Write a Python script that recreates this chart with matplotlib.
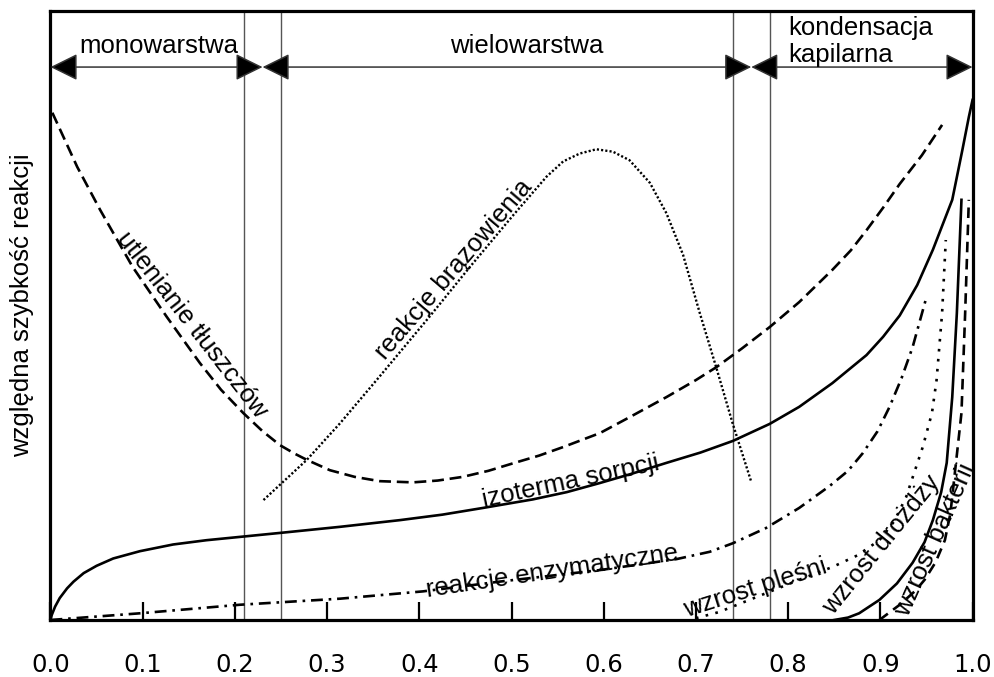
import matplotlib
matplotlib.use('Agg')
import matplotlib.pyplot as plt
from matplotlib.patches import FancyArrowPatch

# utlenianie tłuszczów (dashed)
lipid_x = [0.002, 0.029, 0.054, 0.089, 0.126, 0.162, 0.185, 0.209, 0.230, 0.249, 0.265,
           0.278, 0.303, 0.330, 0.357, 0.393, 0.420, 0.447, 0.475, 0.501, 0.530, 0.556,
           0.596, 0.628, 0.668, 0.700, 0.722, 0.750, 0.780, 0.812, 0.848, 0.868, 0.885,
           0.903, 0.921, 0.945, 0.967]
lipid_y = [0.833, 0.744, 0.673, 0.580, 0.498, 0.422, 0.378, 0.340, 0.310, 0.287, 0.273,
           0.263, 0.246, 0.235, 0.228, 0.226, 0.229, 0.235, 0.245, 0.257, 0.270, 0.284,
           0.307, 0.333, 0.366, 0.394, 0.415, 0.446, 0.481, 0.522, 0.575, 0.607, 0.640,
           0.677, 0.716, 0.763, 0.813]

# izoterma sorpcji (solid)
iso_x = [0.0, 0.0013, 0.005, 0.010, 0.018, 0.025, 0.036, 0.050, 0.068, 0.097, 0.133,
         0.169, 0.209, 0.249, 0.314, 0.379, 0.425, 0.469, 0.523, 0.560, 0.596, 0.630,
         0.668, 0.705, 0.740, 0.780, 0.812, 0.848, 0.885, 0.903, 0.921, 0.940, 0.957,
         0.978, 0.989, 0.996, 1.0]
iso_y = [0.0, 0.008, 0.022, 0.036, 0.052, 0.063, 0.077, 0.089, 0.101, 0.113, 0.124,
         0.131, 0.137, 0.143, 0.153, 0.164, 0.173, 0.184, 0.198, 0.210, 0.225, 0.240,
         0.258, 0.275, 0.294, 0.322, 0.350, 0.389, 0.435, 0.465, 0.500, 0.550, 0.608,
         0.690, 0.772, 0.826, 0.854]

# reakcje brązowienia (dotted)
brown_x = [0.231, 0.278, 0.314, 0.357, 0.411, 0.455, 0.502, 0.538, 0.556, 0.574, 0.592,
           0.610, 0.628, 0.650, 0.668, 0.686, 0.704, 0.722, 0.740, 0.760]
brown_y = [0.197, 0.263, 0.323, 0.400, 0.498, 0.580, 0.665, 0.728, 0.753, 0.766, 0.773,
           0.769, 0.755, 0.718, 0.668, 0.600, 0.505, 0.415, 0.322, 0.227]

# reakcje enzymatyczne (dash-dot)
enz_x = [0.0, 0.097, 0.205, 0.314, 0.404, 0.487, 0.596, 0.679, 0.715, 0.740, 0.776,
         0.812, 0.845, 0.865, 0.881, 0.897, 0.910, 0.923, 0.935, 0.950]
enz_y = [0.0, 0.011, 0.025, 0.035, 0.047, 0.063, 0.082, 0.100, 0.112, 0.126, 0.151,
         0.184, 0.220, 0.245, 0.274, 0.310, 0.350, 0.397, 0.448, 0.530]

# wzrost pleśni (sparse dots)
mold_x = [0.700, 0.725, 0.758, 0.812, 0.848, 0.875, 0.899, 0.915, 0.928, 0.946, 0.956,
          0.961, 0.967, 0.971]
mold_y = [0.003, 0.013, 0.033, 0.066, 0.087, 0.106, 0.131, 0.162, 0.202, 0.284, 0.340,
          0.394, 0.504, 0.624]

# wzrost drożdży (solid)
yeast_x = [0.850, 0.865, 0.877, 0.899, 0.918, 0.935, 0.948, 0.957, 0.966, 0.972, 0.978,
           0.983, 0.988]
yeast_y = [0.0, 0.004, 0.011, 0.033, 0.060, 0.094, 0.128, 0.164, 0.210, 0.258, 0.366,
           0.504, 0.690]

# wzrost bakterii (dashed)
bact_x = [0.899, 0.921, 0.938, 0.948, 0.960, 0.970, 0.976, 0.980, 0.988, 0.992, 0.996]
bact_y = [0.0, 0.025, 0.048, 0.066, 0.095, 0.131, 0.175, 0.230, 0.340, 0.504, 0.690]

xticks = [0.0, 0.1, 0.2, 0.3, 0.4, 0.5, 0.6, 0.7, 0.8, 0.9, 1.0]
xticklabels = ['0.0', '0.1', '0.2', '0.3', '0.4', '0.5', '0.6', '0.7', '0.8', '0.9', '1.0']
region_lines = [0.21, 0.25, 0.74, 0.78]
region_arrows = [(0.0, 0.23), (0.23, 0.76), (0.76, 1.0)]

LAB = 'Liberation Sans'
FS = 18.5

fig = plt.figure(figsize=(9.94, 6.77), dpi=100)
ax = fig.add_axes([0.0508, 0.0842, 0.9276, 0.8995])
ax.set_xlim(0, 1)
ax.set_ylim(0, 1)

for xv in region_lines:
    ax.axvline(xv, color='#555555', lw=1.0, zorder=1)

lw = 1.9
ax.plot(lipid_x, lipid_y, color='k', lw=lw, dashes=(4.5, 2.2))
ax.plot(iso_x, iso_y, color='k', lw=lw)
ax.plot(brown_x, brown_y, color='k', lw=1.7, dashes=(0.9, 0.9))
ax.plot(enz_x, enz_y, color='k', lw=lw, dashes=(4.5, 2.2, 1.0, 2.2))
ax.plot(mold_x, mold_y, color='k', lw=1.9, dashes=(1.0, 2.8))
ax.plot(yeast_x, yeast_y, color='k', lw=lw)
ax.plot(bact_x, bact_y, color='k', lw=lw, dashes=(4.0, 2.5))

# arrows across the top
ya = 0.908
for x0, x1 in region_arrows:
    arr = FancyArrowPatch((x0, ya), (x1, ya), arrowstyle='<|-|>,head_length=0.85,head_width=0.42',
                          mutation_scale=20, shrinkA=0, shrinkB=0, lw=1.1,
                          edgecolor='#333333', facecolor='k', clip_on=False, zorder=3)
    ax.add_patch(arr)

ax.text(0.117, 0.942, 'monowarstwa', family=LAB, fontsize=FS, ha='center', va='center')
ax.text(0.517, 0.942, 'wielowarstwa', family=LAB, fontsize=FS, ha='center', va='center')
ax.text(0.800, 0.950, 'kondensacja\nkapilarna', family=LAB, fontsize=FS, ha='left',
        va='center', linespacing=1.2)

# curve labels
def curve_label(x, y, s, rot):
    ax.text(x, y, s, family=LAB, fontsize=FS, ha='center', va='center',
            rotation=rot, rotation_mode='anchor')

curve_label(0.153, 0.484, 'utlenianie tłuszczów', -52)
curve_label(0.437, 0.575, 'reakcje brązowienia', 49.5)
curve_label(0.564, 0.227, 'izoterma sorpcji', 12)
curve_label(0.544, 0.079, 'reakcje enzymatyczne', 8.4)
curve_label(0.765, 0.053, 'wzrost pleśni', 17.5)
curve_label(0.901, 0.123, 'wzrost drożdży', 51)
curve_label(0.959, 0.131, 'wzrost bakterii', 66)

ax.set_ylabel('względna szybkość reakcji', family=LAB, fontsize=FS)
ax.yaxis.set_label_coords(-0.018, 0.517)
ax.set_yticks([])

ax.set_xticks(xticks)
ax.set_xticklabels(xticklabels, family='DejaVu Sans', fontsize=17.5)
ax.tick_params(axis='x', direction='in', length=13, width=1.6, pad=24)

for sp in ax.spines.values():
    sp.set_linewidth(2.3)

fig.savefig('out.png', dpi=100)
